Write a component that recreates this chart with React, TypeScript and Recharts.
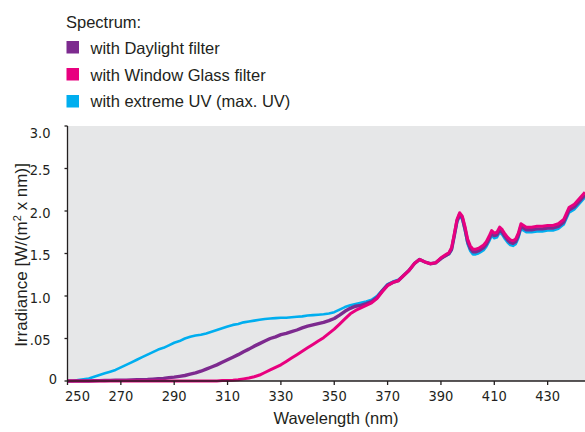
import { LineChart, Line, XAxis, YAxis, CartesianGrid } from "recharts";

// wavelength in nm
const wavelengths = [
  250, 252, 254, 256, 258, 260, 262, 264, 266, 268,
  270, 272, 274, 276, 278, 280, 282, 284, 286, 288,
  290, 292, 294, 296, 298, 300, 302, 304, 306, 308,
  310, 312, 314, 316, 318, 320, 322, 324, 326, 328,
  330, 332, 334, 336, 338, 340, 342, 344, 346, 348,
  350, 352, 354, 356, 358, 360, 362, 364, 366, 368,
  370, 372, 374, 376, 378, 380, 382, 384, 386, 388,
  390, 391, 392, 393, 394, 395, 396, 397, 398, 399,
  400, 401, 402, 403, 404, 405, 406, 407, 408, 409,
  410, 411, 412, 413, 414, 415, 416, 417, 418, 419,
  420, 422, 424, 426, 428, 430, 432, 434, 436, 438,
  440, 442, 444,
];

// irradiance W/(m² x nm)
const extremeUv = [
  0.0, 0.0, 0.01, 0.02, 0.03, 0.05, 0.07, 0.09, 0.11, 0.13,
  0.16, 0.19, 0.22, 0.25, 0.28, 0.31, 0.34, 0.37, 0.39, 0.42,
  0.45, 0.47, 0.5, 0.52, 0.535, 0.545, 0.56, 0.58, 0.6, 0.62,
  0.64, 0.66, 0.67, 0.69, 0.7, 0.71, 0.72, 0.73, 0.735, 0.74,
  0.745, 0.745, 0.75, 0.755, 0.76, 0.77, 0.775, 0.78, 0.785, 0.795,
  0.81, 0.84, 0.87, 0.89, 0.905, 0.92, 0.935, 0.955, 1.0, 1.07,
  1.14, 1.17, 1.19, 1.24, 1.3, 1.38, 1.43, 1.4, 1.38, 1.39,
  1.44, 1.46, 1.48, 1.49, 1.54, 1.7, 1.86, 1.94, 1.9, 1.77,
  1.61, 1.53, 1.49, 1.49, 1.5, 1.52, 1.54, 1.58, 1.64, 1.71,
  1.68, 1.69, 1.75, 1.72, 1.67, 1.63, 1.6, 1.59, 1.61, 1.68,
  1.79, 1.75, 1.75, 1.76, 1.76, 1.77, 1.77, 1.79, 1.84, 1.98,
  2.02, 2.09, 2.16,
];

const daylight = [
  0.0, 0.0, 0.0, 0.0, 0.0, 0.003, 0.005, 0.006, 0.007, 0.008,
  0.01, 0.01, 0.012, 0.014, 0.016, 0.018, 0.022, 0.026, 0.03, 0.04,
  0.045, 0.055, 0.065, 0.08, 0.095, 0.115, 0.14, 0.165, 0.19, 0.22,
  0.25, 0.28, 0.31, 0.345, 0.375, 0.41, 0.44, 0.47, 0.5, 0.52,
  0.545, 0.56, 0.58, 0.6, 0.625, 0.645, 0.66, 0.675, 0.69, 0.71,
  0.735, 0.775, 0.82, 0.855, 0.88, 0.89, 0.91, 0.935, 0.98, 1.06,
  1.13, 1.16, 1.18, 1.24, 1.3, 1.38, 1.43, 1.4, 1.38, 1.39,
  1.44, 1.46, 1.48, 1.5, 1.55, 1.71, 1.88, 1.96, 1.92, 1.79,
  1.64, 1.56, 1.52, 1.52, 1.53, 1.55, 1.57, 1.61, 1.67, 1.74,
  1.71, 1.72, 1.78, 1.75, 1.7, 1.66, 1.63, 1.62, 1.64, 1.71,
  1.82, 1.78, 1.78, 1.79, 1.79, 1.8, 1.8, 1.82, 1.87, 2.01,
  2.05, 2.12, 2.19,
];

const windowGlass = [
  0, 0, 0, 0, 0, 0, 0, 0, 0, 0,
  0, 0, 0, 0, 0, 0, 0, 0, 0, 0,
  0, 0, 0, 0, 0, 0, 0, 0, 0, 0.005,
  0.007, 0.01, 0.015, 0.025, 0.035, 0.05, 0.07, 0.1, 0.13, 0.16,
  0.19, 0.23, 0.27, 0.31, 0.35, 0.39, 0.43, 0.47, 0.51, 0.56,
  0.61, 0.67, 0.73, 0.79, 0.83, 0.86, 0.89, 0.92, 0.97, 1.05,
  1.12, 1.16, 1.18, 1.24, 1.3, 1.38, 1.43, 1.4, 1.38, 1.39,
  1.45, 1.47, 1.49, 1.51, 1.57, 1.73, 1.9, 1.98, 1.94, 1.82,
  1.67, 1.59, 1.55, 1.55, 1.56, 1.58, 1.6, 1.64, 1.7, 1.77,
  1.74, 1.75, 1.81, 1.78, 1.73, 1.69, 1.66, 1.65, 1.67, 1.74,
  1.85, 1.81, 1.81, 1.82, 1.82, 1.83, 1.83, 1.85, 1.9, 2.04,
  2.08, 2.15, 2.22,
];

const xTicks = [250, 270, 290, 310, 330, 350, 370, 390, 410, 430];
const yTicks = [0, 0.5, 1, 1.5, 2, 2.5, 3];
const yTickLabels = ["0", ".05", "1.0", "1.5", "2.0", "2.5", "3.0"];

const legendItems = [
  { label: "with Daylight filter", color: "#7d2a8f" },
  { label: "with Window Glass filter", color: "#e8007f" },
  { label: "with extreme UV (max. UV)", color: "#00aeef" },
];

const data = wavelengths.map((w, i) => ({
  w,
  uv: extremeUv[i],
  daylight: daylight[i],
  glass: windowGlass[i],
}));

const ink = "#231f20";
const tickFont = "'Liberation Sans Narrow', 'DejaVu Sans Condensed', 'Liberation Sans', sans-serif";
const textFont = "'Liberation Sans', Arial, sans-serif";

function XTick({ x, y, payload }: any) {
  const v = payload.value;
  return (
    <text x={v === 250 ? x + 10 : x} y={y + 14} textAnchor="middle" fontSize={14.5} fontFamily={tickFont} fill={ink}>
      {v}
    </text>
  );
}

function YTick({ y, payload }: any) {
  const i = yTicks.indexOf(payload.value);
  const label = yTickLabels[i];
  let dy = 6.5;
  if (label === "3.0") dy = 12;
  if (label === "0") dy = 3;
  return (
    <text x={label === "0" ? 57 : 50.5} y={y + dy} textAnchor="end" fontSize={14.5} fontFamily={tickFont} fill={ink}>
      {label}
    </text>
  );
}

export default function App() {
  return (
    <div style={{ position: "absolute", left: 0, top: 0, width: 585, height: 432, overflow: "hidden", background: "#fff" }}>
      <LineChart width={620} height={432} data={data} margin={{ top: 126, right: 19, bottom: 0, left: 0 }}>
        <CartesianGrid horizontal={false} vertical={false} fill="#e6e7e8" />
        <XAxis
          dataKey="w"
          type="number"
          domain={[250, 450]}
          ticks={xTicks}
          height={51}
          allowDataOverflow
          stroke={ink}
          strokeWidth={1.3}
          tickSize={4}
          tick={<XTick />}
        />
        <YAxis
          type="number"
          domain={[0, 3]}
          ticks={yTicks}
          width={67.5}
          stroke={ink}
          strokeWidth={1.3}
          tickSize={3}
          tick={<YTick />}
        />
        <Line dataKey="uv" stroke="#00aeef" strokeWidth={2.6} dot={false} isAnimationActive={false} strokeLinejoin="round" />
        <Line dataKey="daylight" stroke="#7d2a8f" strokeWidth={3.4} dot={false} isAnimationActive={false} strokeLinejoin="round" />
        <Line dataKey="glass" stroke="#e8007f" strokeWidth={3} dot={false} isAnimationActive={false} strokeLinejoin="round" />
      </LineChart>
      <svg width={585} height={432} style={{ position: "absolute", left: 0, top: 0, pointerEvents: "none" }}>
        <text x={66} y={27.5} fontSize={16.5} fontFamily={textFont} fill={ink}>Spectrum:</text>
        {legendItems.map((item, i) => (
          <g key={item.label}>
            <rect x={66.5} y={41 + i * 27} width={12.5} height={12.5} fill={item.color} />
            <text x={90.5} y={54 + i * 26.7} fontSize={16.5} fontFamily={textFont} fill={ink}>{item.label}</text>
          </g>
        ))}
        <text transform="translate(27,255) rotate(-90)" textAnchor="middle" fontSize={17} fontFamily={textFont} fill={ink}>
          Irradiance [W/(m<tspan fontSize={11} dy={-6}>2</tspan><tspan dy={6}> x nm)]</tspan>
        </text>
        <text x={336} y={424} textAnchor="middle" fontSize={16.5} fontFamily={textFont} fill={ink}>Wavelength (nm)</text>
      </svg>
    </div>
  );
}
